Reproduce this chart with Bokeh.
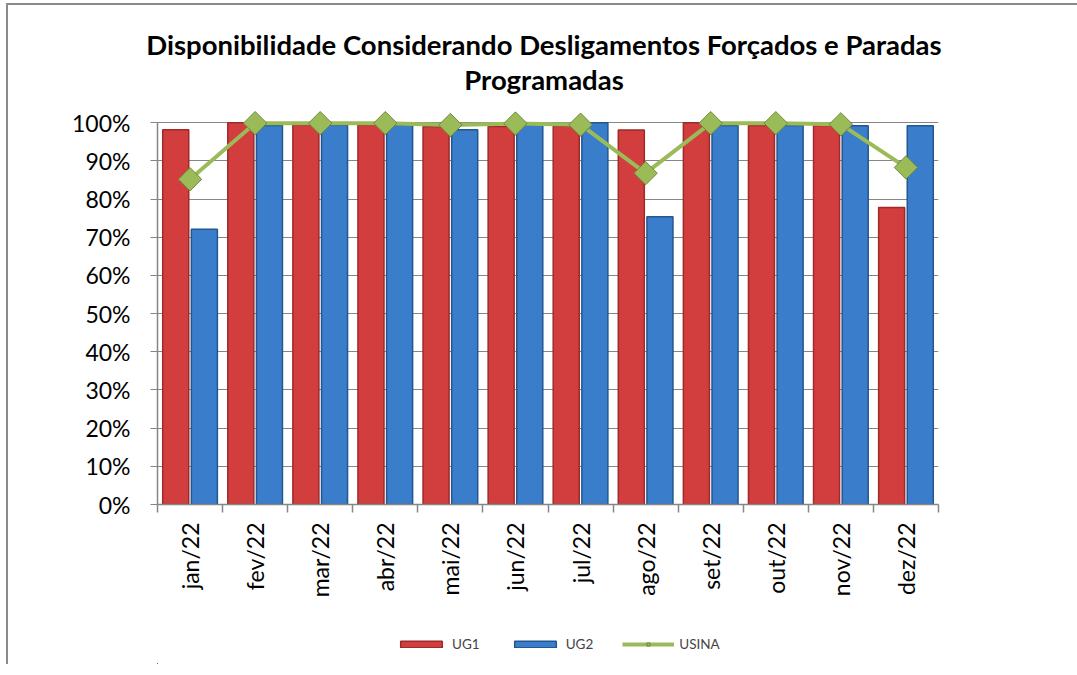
import math
from bokeh.plotting import figure
from bokeh.layouts import column
from bokeh.models import (FixedTicker, NumeralTickFormatter, Legend, LegendItem, Div,
                          ColumnDataSource, Range1d)
from bokeh.embed import file_html
from bokeh.resources import INLINE

title_lines = ["Disponibilidade Considerando Desligamentos Forçados e Paradas", "Programadas"]
months = ["jan/22", "fev/22", "mar/22", "abr/22", "mai/22", "jun/22",
          "jul/22", "ago/22", "set/22", "out/22", "nov/22", "dez/22"]
ug1 = [0.982, 1.000, 0.994, 0.994, 0.990, 0.990, 0.991, 0.981, 1.000, 0.993, 0.993, 0.778]
ug2 = [0.721, 0.993, 0.994, 0.994, 0.982, 0.994, 1.000, 0.754, 0.993, 0.993, 0.992, 0.992]
usina = [0.852, 0.999, 0.999, 0.999, 0.994, 0.998, 0.995, 0.868, 0.999, 0.999, 0.996, 0.883]
y_ticks = [0.0, 0.1, 0.2, 0.3, 0.4, 0.5, 0.6, 0.7, 0.8, 0.9, 1.0]
series_names = ["UG1", "UG2", "USINA"]

FONT = "Lato"
GREY = "#868686"
RED, RED_EDGE = "#D23D3D", "#9E2A2A"
BLUE, BLUE_EDGE = "#3A7DCB", "#23578F"
GREEN, GREEN_EDGE = "#9BBB59", "#6E8A3A"

pos = [i + 1 for i in range(len(months))]
src = ColumnDataSource(dict(
    x=pos,
    x1=[p_ - 0.22 for p_ in pos],
    x2=[p_ + 0.22 for p_ in pos],
    ug1=ug1, ug2=ug2, usina=usina,
))

title_div = Div(
    text=('<div style="width:1043px;padding-left:19px;padding-top:17px;text-align:center;'
          'font-family:Lato;font-weight:bold;font-size:27.5px;line-height:35px;color:black">'
          + "<br>".join(title_lines) + "</div>"),
    width=1062, height=81)

p = figure(frame_width=781, frame_height=397,
           min_border_left=149, min_border_right=132,
           min_border_top=11, min_border_bottom=120,
           x_range=Range1d(0.5, len(months) + 0.5), y_range=Range1d(0, 1.04),
           output_backend="svg", toolbar_location=None,
           background_fill_color="white", border_fill_color="white")
p.outline_line_color = None

p.vbar(x="x1", top="ug1", width=0.4, source=src,
       fill_color=RED, line_color=RED_EDGE, line_width=1.5)
p.vbar(x="x2", top="ug2", width=0.4, source=src,
       fill_color=BLUE, line_color=BLUE_EDGE, line_width=1.5)
p.line(x="x", y="usina", source=src, line_color=GREEN, line_width=4)
p.scatter(x="x", y="usina", source=src, marker="square", angle=math.pi / 4,
          size=16.5, fill_color=GREEN, line_color=GREEN_EDGE, line_width=1)

# Y axis
p.yaxis.ticker = FixedTicker(ticks=y_ticks, minor_ticks=[])
p.yaxis.formatter = NumeralTickFormatter(format="0%")
p.yaxis.bounds = (0, 1)
p.yaxis.axis_line_color = GREY
p.yaxis.axis_line_width = 1.5
p.yaxis.major_tick_line_color = GREY
p.yaxis.major_tick_out = 7
p.yaxis.major_tick_in = 0
p.yaxis.minor_tick_line_color = None
p.yaxis.major_label_text_font = FONT
p.yaxis.major_label_text_font_size = "23px"
p.yaxis.major_label_text_color = "black"
p.yaxis.major_label_standoff = 20

# X axis
p.xaxis.ticker = FixedTicker(ticks=pos, minor_ticks=[i + 0.5 for i in range(len(months) + 1)])
p.xaxis.major_label_overrides = {pos[i]: months[i] for i in range(len(months))}
p.xaxis.major_label_orientation = math.pi / 2
p.xaxis.axis_line_color = GREY
p.xaxis.axis_line_width = 1.5
p.xaxis.major_tick_line_color = None
p.xaxis.minor_tick_line_color = GREY
p.xaxis.minor_tick_line_width = 1.5
p.xaxis.minor_tick_out = 8
p.xaxis.minor_tick_in = 0
p.xaxis.major_label_text_font = FONT
p.xaxis.major_label_text_font_size = "23px"
p.xaxis.major_label_text_color = "black"
p.xaxis.major_label_standoff = 10

# Grid
p.xgrid.grid_line_color = None
p.ygrid.ticker = FixedTicker(ticks=y_ticks, minor_ticks=[])
p.ygrid.grid_line_color = GREY
p.ygrid.grid_line_width = 1.2
p.ygrid.bounds = (0, 1)

# Legend strip: a small figure with the same series (kept out of its view),
# so the legend sits below the chart without being clipped.
lg = figure(width=1062, height=40, min_border=0,
            x_range=Range1d(14, 15), y_range=Range1d(2, 3),
            x_axis_type=None, y_axis_type=None,
            output_backend="svg", toolbar_location=None,
            background_fill_color="white", border_fill_color="white")
lg.outline_line_color = None
lg.xgrid.grid_line_color = None
lg.ygrid.grid_line_color = None
g1 = lg.vbar(x="x1", top="ug1", width=0.4, source=src,
             fill_color=RED, line_color=RED_EDGE, line_width=1.5)
g2 = lg.vbar(x="x2", top="ug2", width=0.4, source=src,
             fill_color=BLUE, line_color=BLUE_EDGE, line_width=1.5)
g3 = lg.line(x="x", y="usina", source=src, line_color=GREEN, line_width=4)
g4 = lg.scatter(x="x", y="usina", source=src, marker="square", angle=math.pi / 4,
                size=12, fill_color=GREEN, line_color=GREEN_EDGE, line_width=1)

legend = Legend(items=[LegendItem(label=series_names[0], renderers=[g1]),
                       LegendItem(label=series_names[1], renderers=[g2]),
                       LegendItem(label=series_names[2], renderers=[g3, g4])],
                location=(238, 12), orientation="horizontal",
                glyph_width=52, glyph_height=8, label_height=16,
                label_standoff=5, spacing=29, padding=0, margin=0,
                label_text_font=FONT, label_text_font_size="13.5px",
                border_line_color=None, background_fill_alpha=0)
lg.add_layout(legend, "center")

layout = column(title_div, p, lg, spacing=0,
                styles={"border-left": "2px solid #8a8a8a", "border-top": "2px solid #8a8a8a",
                        "margin-left": "6px", "margin-top": "3px"})

open("out.html", "w").write(file_html(layout, INLINE))
